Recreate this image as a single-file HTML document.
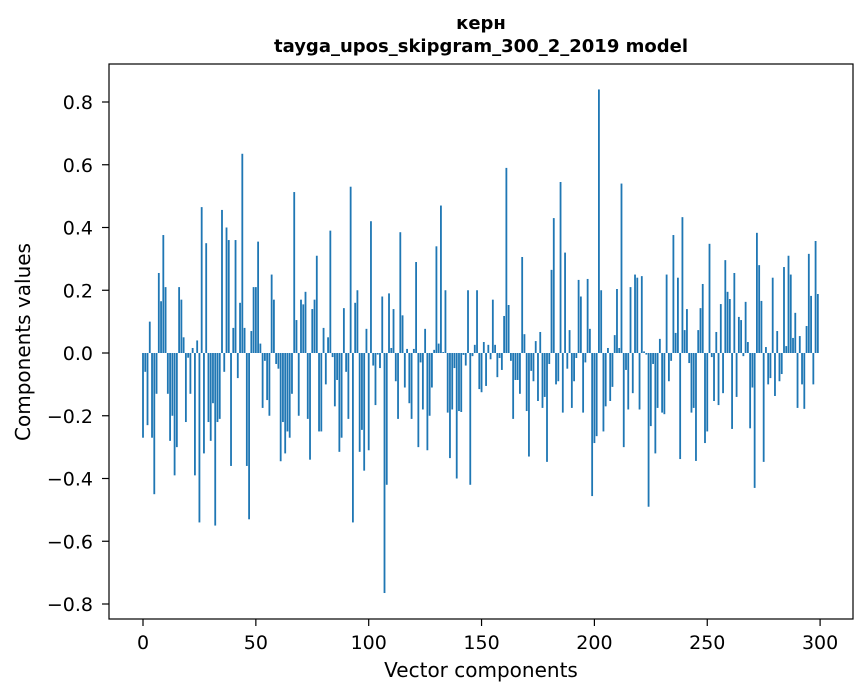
<!DOCTYPE html>
<html><head><meta charset="utf-8"><style>
html,body{margin:0;padding:0;background:#fff}
svg{display:block;font-family:"DejaVu Sans","Liberation Sans",sans-serif}
</style></head><body>
<svg id="s" width="867" height="696" viewBox="0 0 867 696" xmlns="http://www.w3.org/2000/svg">
<rect width="867" height="696" fill="#fff"/>
<g id="bars" fill="#1f77b4"></g>
<rect x="109" y="64" width="744" height="555" fill="none" stroke="#000" stroke-width="1.2"/>
<g id="ticks" stroke="#000" stroke-width="1.2"></g>
<g id="labels" font-size="19" fill="#000"></g>
<text x="481" y="29" text-anchor="middle" font-size="18" font-weight="bold">керн</text>
<text x="481" y="52" text-anchor="middle" font-size="18" font-weight="bold">tayga_upos_skipgram_300_2_2019 model</text>
<text x="481" y="677" text-anchor="middle" font-size="20">Vector components</text>
<text transform="translate(30,342) rotate(-90)" text-anchor="middle" font-size="20">Components values</text>
</svg>
<script>
var v=[-0.27,-0.06,-0.23,0.10,-0.27,-0.45,-0.13,0.255,0.165,0.376,0.21,-0.13,-0.28,-0.20,-0.39,-0.30,0.21,0.17,0.05,-0.22,
-0.015,-0.13,0.016,-0.39,0.04,-0.54,0.465,-0.32,0.35,-0.22,-0.28,-0.16,-0.55,-0.22,-0.21,0.456,-0.06,0.40,0.36,-0.36,
0.08,0.36,-0.08,0.16,0.635,0.08,-0.36,-0.53,0.07,0.21,0.21,0.355,0.03,-0.175,-0.025,-0.15,-0.2,0.25,0.17,-0.035,
-0.05,-0.345,-0.22,-0.32,-0.25,-0.27,-0.13,0.513,0.105,-0.2,0.17,0.155,0.195,-0.21,-0.34,0.14,0.17,0.31,-0.25,-0.25,
0.08,-0.10,0.05,0.39,-0.013,-0.17,-0.086,-0.315,-0.27,0.143,-0.06,-0.21,0.53,-0.54,0.16,0.20,-0.315,-0.245,-0.375,0.077,
-0.31,0.42,-0.04,-0.166,-0.005,-0.048,0.18,-0.765,-0.42,0.19,0.016,0.14,-0.09,-0.21,0.385,0.12,-0.11,0.013,-0.16,-0.21,
0.013,0.29,-0.30,-0.03,-0.18,0.077,-0.31,-0.2,-0.11,0.01,0.34,0.03,0.47,0.003,0.20,-0.19,-0.335,-0.18,-0.048,-0.4,
-0.185,-0.188,-0.006,-0.04,0.20,-0.42,-0.01,0.026,0.20,-0.115,-0.125,0.035,-0.105,0.026,-0.02,0.17,0.026,-0.077,-0.016,-0.054,
0.118,0.59,0.153,-0.025,-0.21,-0.086,-0.086,-0.13,0.306,0.06,-0.185,-0.33,-0.057,-0.09,0.038,-0.153,0.067,-0.175,-0.14,-0.347,
-0.035,0.265,0.43,-0.10,-0.09,0.545,-0.19,0.32,-0.05,0.073,-0.175,-0.09,-0.016,0.233,0.18,-0.19,-0.03,0.236,0.077,-0.456,
-0.287,-0.265,0.84,0.20,-0.25,-0.17,0.016,-0.153,-0.108,0.057,0.204,0.016,0.54,-0.30,-0.054,-0.18,0.21,-0.128,0.25,0.24,
-0.18,0.245,0.005,-0.005,-0.49,-0.233,-0.035,-0.32,-0.175,0.045,-0.19,-0.195,0.25,-0.09,-0.025,0.376,0.064,0.24,-0.338,0.433,
0.073,0.14,-0.032,-0.19,-0.175,-0.344,0.073,0.143,0.22,-0.287,-0.25,0.348,-0.013,-0.153,0.067,-0.166,0.156,-0.128,0.296,0.195,
0.172,-0.242,0.255,-0.14,0.115,0.105,-0.01,0.163,0.035,-0.24,-0.11,-0.43,0.383,0.28,0.166,-0.347,0.019,-0.1,-0.08,0.24,
-0.137,0.07,-0.09,-0.067,0.274,0.022,0.31,0.25,0.048,0.128,-0.175,0.054,-0.1,-0.178,0.086,0.316,0.182,-0.1,0.357,0.188];
var NS="http://www.w3.org/2000/svg";
function el(t,a,p,txt){var e=document.createElementNS(NS,t);for(var k in a)e.setAttribute(k,a[k]);if(txt!=null)e.textContent=txt;p.appendChild(e);return e;}
var X0=143,SX=2.257,Y0=353,SY=313.75,bw=0.8*SX;
var g=document.getElementById('bars');
for(var i=0;i<v.length;i++){var h=v[i]*SY;var y=h>=0?Y0-h:Y0;el('rect',{x:(X0+i*SX-bw/2).toFixed(2),y:y.toFixed(2),width:bw.toFixed(2),height:Math.max(Math.abs(h),0.3).toFixed(2)},g);}
var t=document.getElementById('ticks'),L=document.getElementById('labels');
for(var k=0;k<=300;k+=50){var x=X0+k*SX;el('line',{x1:x,x2:x,y1:619,y2:626},t);el('text',{x:x,y:649,'text-anchor':'middle'},L,String(k));}
for(var j=-4;j<=4;j++){var val=j*0.2;var y=Y0-val*SY;el('line',{x1:102,x2:109,y1:y,y2:y},t);
var s=Math.abs(val).toFixed(1);if(j<0)s='\u2212'+s;el('text',{x:93,y:y+7,'text-anchor':'end'},L,s);}
</script>
</body></html>
